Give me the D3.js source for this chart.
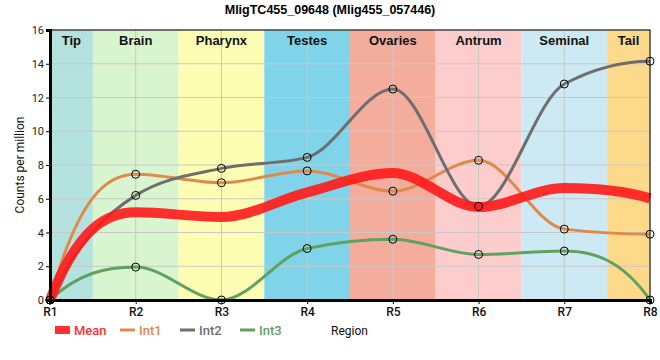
<!DOCTYPE html>
<html><head><meta charset="utf-8">
<script src="https://cdn.jsdelivr.net/npm/d3@7"></script>
<style>body{margin:0;background:#fff}</style>
</head><body>
<svg id="c" width="660" height="360"></svg>
<script>
const regions = ["R1","R2","R3","R4","R5","R6","R7","R8"];
const bandNames = ["Tip","Brain","Pharynx","Testes","Ovaries","Antrum","Seminal","Tail"];
const bandColors = ["#b4e2de","#d8f5d0","#fdfdb3","#80d4ea","#f4ac9d","#fdcdcd","#cdeaf4","#fdd98b"];
const int1 = [0, 7.45, 6.95, 7.65, 6.45, 8.28, 4.2, 3.9];
const int2 = [0, 6.2, 7.8, 8.45, 12.5, 5.55, 12.8, 14.15];
const int3 = [0, 1.95, 0, 3.05, 3.6, 2.7, 2.9, 0];
const meanVals = [0, 5.2, 4.92, 6.38, 7.52, 5.51, 6.63, 6.02];
const yTicks = [0,2,4,6,8,10,12,14,16];

// monotone cubic curve with steeper end tangents
function curveMono(context){
  let pts = [];
  return {
    areaStart(){}, areaEnd(){},
    lineStart(){ pts = []; },
    point(x,y){ pts.push([+x,+y]); },
    lineEnd(){
      const n = pts.length; if(!n) return;
      const sgn = v => v<0?-1:v>0?1:0;
      const s = [];
      for(let i=0;i<n-1;i++) s.push((pts[i+1][1]-pts[i][1])/(pts[i+1][0]-pts[i][0]));
      const t = new Array(n).fill(0);
      for(let i=1;i<n-1;i++){
        const h0=pts[i][0]-pts[i-1][0], h1=pts[i+1][0]-pts[i][0];
        const p=(s[i-1]*h1+s[i]*h0)/(h0+h1);
        t[i]=(sgn(s[i-1])+sgn(s[i]))*Math.min(Math.abs(s[i-1]),Math.abs(s[i]),0.5*Math.abs(p))||0;
      }
      const endT=(sec,inner)=>{let v=2.5*sec-1.5*inner; if(sgn(v)!==sgn(sec)) v=0; if(Math.abs(v)>3*Math.abs(sec)) v=3*sec; return v;};
      if(n>1){ t[0]=endT(s[0],t[1]); t[n-1]=endT(s[n-2],t[n-2]); }
      context.moveTo(pts[0][0],pts[0][1]);
      for(let i=0;i<n-1;i++){
        const [x0,y0]=pts[i],[x1,y1]=pts[i+1], dx=(x1-x0)/3;
        context.bezierCurveTo(x0+dx,y0+dx*t[i],x1-dx,y1-dx*t[i+1],x1,y1);
      }
    }
  };
}

const svg = d3.select("#c");
const L=50, R=650, T=30, B=300;
const x = d3.scalePoint().domain(regions).range([L,R]);
const y = d3.scaleLinear().domain([0,16]).range([B,T]);
const step = x.step();
const bandLo = i => Math.max(L, x(regions[i])-step/2);
const bandHi = i => Math.min(R, x(regions[i])+step/2);

svg.append("g").selectAll("rect").data(bandNames).join("rect")
  .attr("x",(d,i)=>bandLo(i)).attr("width",(d,i)=>bandHi(i)-bandLo(i))
  .attr("y",T).attr("height",B-T).attr("fill",(d,i)=>bandColors[i]);

svg.append("g").selectAll("line").data(yTicks).join("line")
  .attr("x1",L).attr("x2",R).attr("y1",d=>y(d)).attr("y2",d=>y(d))
  .attr("stroke","#c8c8c8").attr("stroke-width",1);
svg.append("g").selectAll("line").data(regions).join("line")
  .attr("x1",d=>x(d)).attr("x2",d=>x(d)).attr("y1",T).attr("y2",B)
  .attr("stroke","#c8c8c8").attr("stroke-width",1);

svg.append("g").selectAll("text").data(bandNames).join("text")
  .attr("x",(d,i)=>(bandLo(i)+bandHi(i))/2)
  .attr("y",45).attr("text-anchor","middle")
  .attr("font-family","Liberation Sans, Arial, sans-serif").attr("font-weight","bold").attr("font-size",13)
  .attr("fill","#111").text(d=>d);

const line = d3.line().x((d,i)=>x(regions[i])).y(d=>y(d)).curve(curveMono);
const series = [{v:int1,c:"#dd8a4c"},{v:int2,c:"#6e6e6e"},{v:int3,c:"#5fa15f"}];
series.forEach(s=>{
  svg.append("path").datum(s.v).attr("d",line).attr("fill","none")
    .attr("stroke",s.c).attr("stroke-width",3);
});
svg.append("path").datum(meanVals).attr("d",line).attr("fill","none")
  .attr("stroke","#ff1a1a").attr("stroke-opacity",0.9).attr("stroke-width",10);
series.forEach(s=>{
  svg.append("g").selectAll("circle").data(s.v).join("circle")
    .attr("cx",(d,i)=>x(regions[i])).attr("cy",d=>y(d)).attr("r",4)
    .attr("fill","none").attr("stroke","#000").attr("stroke-width",1);
});

svg.append("rect").attr("x",L).attr("y",T).attr("width",R-L).attr("height",B-T)
  .attr("fill","none").attr("stroke","#000").attr("stroke-width",1);

const ya = svg.append("g").attr("transform",`translate(${L},0)`)
  .call(d3.axisLeft(y).tickValues(yTicks).tickSize(4).tickPadding(2));
ya.select(".domain").attr("stroke-width",3);
ya.selectAll("text").attr("font-family","Roboto, sans-serif").attr("font-size",11).attr("fill","#222");
const xa = svg.append("g").attr("transform",`translate(0,${B})`)
  .call(d3.axisBottom(x).tickSize(4).tickPadding(3));
xa.select(".domain").attr("stroke-width",3);
xa.selectAll("text").attr("font-family","Roboto, sans-serif").attr("font-size",12).attr("font-weight","500").attr("fill","#111");

svg.append("text").attr("x",330).attr("y",14).attr("text-anchor","middle")
  .attr("font-family","Liberation Sans, Arial, sans-serif").attr("font-weight","bold").attr("font-size",12.5)
  .text("MligTC455_09648 (Mlig455_057446)");
svg.append("text").attr("transform","translate(24,165) rotate(-90)").attr("text-anchor","middle")
  .attr("font-family","Roboto, sans-serif").attr("font-size",12).attr("fill","#111").text("Counts per million");
svg.append("text").attr("x",331).attr("y",335)
  .attr("font-family","Roboto, sans-serif").attr("font-size",12).attr("fill","#111").text("Region");

const leg = [{n:"Mean",c:"#ff3030",x:55,w:8},{n:"Int1",c:"#dd8a4c",x:120,w:3},{n:"Int2",c:"#6e6e6e",x:180,w:3},{n:"Int3",c:"#5fa15f",x:240,w:3}];
leg.forEach(l=>{
  svg.append("line").attr("x1",l.x).attr("x2",l.x+15).attr("y1",330).attr("y2",330)
    .attr("stroke",l.c).attr("stroke-width",l.w);
  svg.append("text").attr("x",l.x+19).attr("y",335).attr("fill",l.c)
    .attr("font-family","Roboto, sans-serif").attr("font-size",13).attr("font-weight","500").text(l.n);
});
</script>
</body></html>
